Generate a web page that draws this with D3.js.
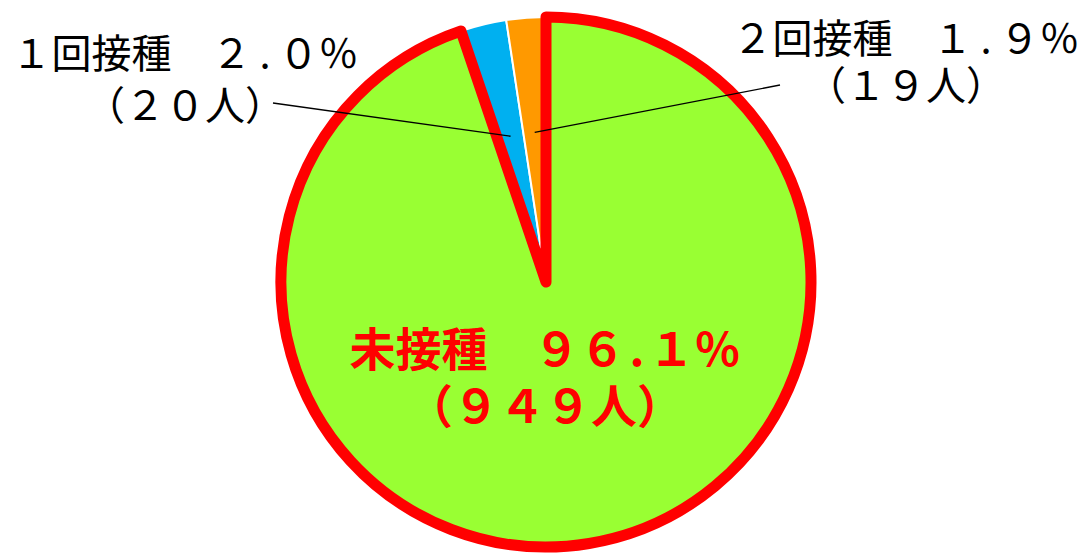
<!DOCTYPE html>
<html>
<head>
<meta charset="utf-8">
<script src="https://cdn.jsdelivr.net/npm/d3@7"></script>
<style>
  body { margin: 0; background: #fff; }
  svg { display: block; }
  text { font-family: "Noto Sans CJK JP", "Noto Sans", sans-serif; }
</style>
</head>
<body>
<svg id="chart" width="1081" height="553"></svg>
<script>
// categories and values
var categories = ["未接種", "１回接種", "２回接種"];
var counts = [949, 20, 19];
var percents = [96.1, 2.0, 1.9];
// slice sizes as they are drawn in the picture (the wedge is a bit wider than 3.9%)
var sliceShares = [94.8, 2.8, 2.4];
var sliceColors = ["#99FF33", "#00B0F0", "#FF9900"];

var width = 1081, height = 553;
var cx = 546, cy = 282, radius = 265;

var svg = d3.select("#chart");

function toWide(s) {
    return String(s).replace(/[0-9]/g, function(c) {
        return String.fromCharCode(c.charCodeAt(0) + 0xFEE0);
    });
}

var slices = categories.map(function(c, i) {
    return { name: c, share: sliceShares[i], color: sliceColors[i], count: counts[i], pct: percents[i] };
});

var pie = d3.pie()
    .sort(null)
    .value(function(d) { return d.share; });

var arc = d3.arc().innerRadius(0).outerRadius(radius);
var leaderArc = d3.arc().innerRadius(150).outerRadius(150);

var arcs = pie(slices);

var g = svg.append("g")
    .attr("transform", "translate(" + cx + "," + cy + ")");

// small slices first, white edges
g.selectAll("path.small")
    .data(arcs.slice(1))
    .enter()
    .append("path")
    .attr("class", "small")
    .attr("d", arc)
    .attr("fill", function(d) { return d.data.color; })
    .attr("stroke", "#fff")
    .attr("stroke-width", 2);

// the big one on top with its thick red border
g.append("path")
    .datum(arcs[0])
    .attr("d", arc)
    .attr("fill", function(d) { return d.data.color; })
    .attr("stroke", "#FF0000")
    .attr("stroke-width", 11)
    .attr("stroke-linejoin", "round");

// label layout (positions only)
var labelPos = [
    { x: 545, y1: 366, y2: 423, color: "#FF0000", weight: "bold", size: 46, dotGap: 4 },
    { x: 185, y1: 68, y2: 120, color: "#000", weight: "normal", size: 40, dotGap: 8, lx: 273, ly: 103 },
    { x: 906, y1: 53, y2: 100, color: "#000", weight: "normal", size: 40, dotGap: 8, lx: 780, ly: 85 }
];

// leader lines for the two small slices
[1, 2].forEach(function(i) {
    var p = leaderArc.centroid(arcs[i]);
    svg.append("line")
        .attr("x1", labelPos[i].lx)
        .attr("y1", labelPos[i].ly)
        .attr("x2", cx + p[0])
        .attr("y2", cy + p[1])
        .attr("stroke", "#000")
        .attr("stroke-width", 1.3);
});

arcs.forEach(function(d, i) {
    var lp = labelPos[i];
    var parts = d.data.pct.toFixed(1).split(".");
    var t = svg.append("text")
        .attr("text-anchor", "middle")
        .attr("fill", lp.color)
        .attr("font-weight", lp.weight)
        .attr("font-size", lp.size);
    t.append("tspan").attr("x", lp.x).attr("y", lp.y1)
        .text(d.data.name + "　" + toWide(parts[0]));
    t.append("tspan").attr("dx", lp.dotGap).text(".");
    t.append("tspan").attr("dx", lp.dotGap).text(toWide(parts[1]) + "％");
    t.append("tspan").attr("x", lp.x).attr("y", lp.y2)
        .text("（" + toWide(d.data.count) + "人）");
});
</script>
</body>
</html>
